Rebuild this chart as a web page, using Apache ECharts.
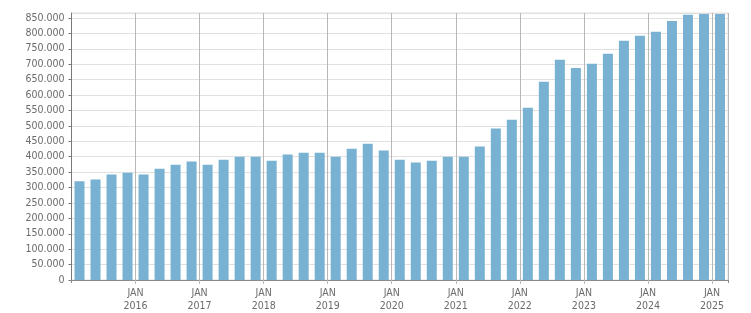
<!DOCTYPE html>
<html>
<head>
<meta charset="utf-8">
<script src="https://cdn.jsdelivr.net/npm/echarts@6/dist/echarts.min.js"></script>
<style>
html,body{margin:0;padding:0;background:#fff;}
#chart{width:751px;height:313px;}
</style>
</head>
<body>
<div id="chart"></div>
<script>
// Quarterly categories, 2015 Q1 .. 2025 Q1
const startYear = 2015;
const quarters = [
  '2015-Q1','2015-Q2','2015-Q3','2015-Q4',
  '2016-Q1','2016-Q2','2016-Q3','2016-Q4',
  '2017-Q1','2017-Q2','2017-Q3','2017-Q4',
  '2018-Q1','2018-Q2','2018-Q3','2018-Q4',
  '2019-Q1','2019-Q2','2019-Q3','2019-Q4',
  '2020-Q1','2020-Q2','2020-Q3','2020-Q4',
  '2021-Q1','2021-Q2','2021-Q3','2021-Q4',
  '2022-Q1','2022-Q2','2022-Q3','2022-Q4',
  '2023-Q1','2023-Q2','2023-Q3','2023-Q4',
  '2024-Q1','2024-Q2','2024-Q3','2024-Q4',
  '2025-Q1'
];
const values = [
  320000, 326000, 342000, 348000,
  342000, 361000, 374000, 384000,
  374000, 390000, 400000, 400000,
  387000, 407000, 413000, 413000,
  400000, 426000, 442000, 420000,
  390000, 381000, 387000, 400000,
  400000, 433000, 491000, 520000,
  559000, 643000, 714000, 688000,
  701000, 734000, 776000, 792000,
  805000, 840000, 860000, 863000,
  863000
];
const yMax = 866000;
const yStep = 50000;
const monthLabel = 'JAN';

function fmt(v){
  return String(v).replace(/\B(?=(\d{3})+(?!\d))/g, '.');
}

const font = '"DejaVu Sans Condensed", "DejaVu Sans", sans-serif';
const labelColor = '#6b6b6b';

const chart = echarts.init(document.getElementById('chart'), null, {renderer: 'canvas'});
chart.setOption({
  animation: false,
  grid: {
    left: 71.5, right: 23, top: 13, bottom: 32,
    show: true, borderColor: '#dedede', borderWidth: 1, backgroundColor: 'transparent'
  },
  xAxis: [
    {
      type: 'category',
      data: quarters,
      boundaryGap: true,
      axisLine: {show: true, lineStyle: {color: '#8a8a8a', width: 1}},
      axisTick: {show: true, length: 3, lineStyle: {color: '#8a8a8a'}},
      axisLabel: {show: false},
      splitLine: {
        show: true,
        interval: function(i){ return i % 4 === 0; },
        lineStyle: {color: '#b8b8b8', width: 1}
      }
    },
    {
      type: 'value',
      min: 0,
      max: quarters.length,
      interval: 4,
      position: 'bottom',
      axisLine: {show: false},
      axisTick: {show: true, length: 4, lineStyle: {color: '#b8b8b8'}},
      splitLine: {show: false},
      axisLabel: {
        show: true,
        showMaxLabel: false,
        showMinLabel: false,
        margin: 7,
        color: labelColor,
        fontFamily: font,
        fontSize: 10.5,
        lineHeight: 13,
        formatter: function(v){
          if (v % 4 !== 0 || v === 0) return '';
          return monthLabel + '\n' + (startYear + v / 4);
        }
      }
    }
  ],
  yAxis: {
    type: 'value',
    min: 0,
    max: yMax,
    interval: yStep,
    axisLine: {show: true, lineStyle: {color: '#7a7a7a', width: 1}},
    axisTick: {show: true, length: 3, lineStyle: {color: '#7a7a7a'}},
    splitLine: {show: true, lineStyle: {color: '#e0e0e0', width: 1}},
    axisLabel: {
      show: true,
      showMaxLabel: false,
      margin: 7,
      color: labelColor,
      fontFamily: font,
      fontSize: 10.5,
      formatter: function(v){
        if (v % yStep !== 0) return '';
        return fmt(v);
      }
    }
  },
  series: [{
    type: 'bar',
    xAxisIndex: 0,
    data: values,
    barWidth: 10,
    itemStyle: {color: '#79b1d2'}
  }]
});
</script>
</body>
</html>
